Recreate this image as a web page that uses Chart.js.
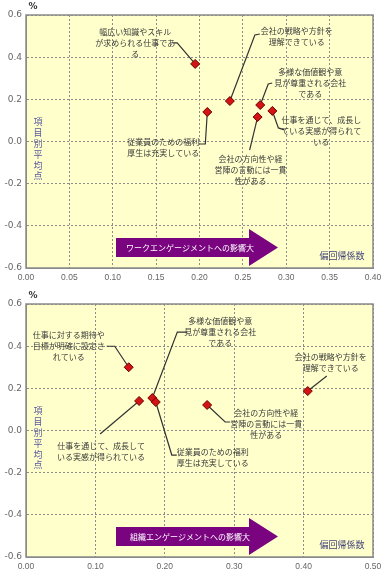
<!DOCTYPE html>
<html lang="ja">
<head>
<meta charset="UTF-8">
<title>項目別平均点と偏回帰係数</title>
<script src="https://cdn.jsdelivr.net/npm/chart.js"></script>
<style>
  html, body { margin: 0; padding: 0; background: #fff; }
  canvas { display: block; }
</style>
</head>
<body>
<canvas id="graficaWork" width="389" height="290"></canvas>
<canvas id="graficaOrg" width="389" height="288"></canvas>
<script>
// --- ワークエンゲージメント ---
const items1 = [
  '幅広い知識やスキル\nが求められる仕事であ\nる',
  '会社の戦略や方針を\n理解できている',
  '多様な価値観や意\n見が尊重される会社\nである',
  '仕事を通じて、成長し\nている実感が得られて\nいる',
  '会社の方向性や経\n営陣の言動には一貫\n性がある',
  '従業員のための福利\n厚生は充実している'
];
const coef1 = [0.195, 0.235, 0.270, 0.284, 0.267, 0.209];
const avg1  = [0.368, 0.192, 0.173, 0.145, 0.116, 0.140];
const xTicks1 = [0, 0.05, 0.10, 0.15, 0.20, 0.25, 0.30, 0.35, 0.40];

// --- 組織エンゲージメント ---
const items2 = [
  '仕事に対する期待や\n目標が明確に設定さ\nれている',
  '仕事を通じて、成長して\nいる実感が得られている',
  '多様な価値観や意\n見が尊重される会社\nである',
  '従業員のための福利\n厚生は充実している',
  '会社の方向性や経\n営陣の言動には一貫\n性がある',
  '会社の戦略や方針を\n理解できている'
];
const coef2 = [0.148, 0.163, 0.182, 0.187, 0.261, 0.406];
const avg2  = [0.300, 0.140, 0.154, 0.135, 0.121, 0.187];
const xTicks2 = [0, 0.10, 0.20, 0.30, 0.40, 0.50];

const yTicks = [-0.6, -0.4, -0.2, 0.0, 0.2, 0.4, 0.6];

// ラベル位置（点からのずれ, px）
const pos1 = [
  { dx: -60, dy: -21, leader: [[-22, -21], [-18, -21]] },
  { dx: 67, dy: -65, leader: [[30, -67], [25, -66]] },
  { dx: 50, dy: -22, leader: [[12, -22], [8, -21]] },
  { dx: 49, dy: 20, leader: [[12, 19], [6, 17]] },
  { dx: -7, dy: 53, leader: [[-8, 33]] },
  { dx: -44, dy: 35, leader: [[-8, 32], [-2, 32]] }
];
const pos2 = [
  { dx: -60, dy: -21, leader: [[-22, -21], [-14, -21]] },
  { dx: -38, dy: 50, leader: [[-39, 33]] },
  { dx: 68, dy: -66, leader: [[35, -66], [25, -66]] },
  { dx: 57, dy: 55, leader: [[21, 53], [16, 53]] },
  { dx: 59, dy: 19, leader: [[23, 17], [18, 17]] },
  { dx: 23, dy: -29, leader: [[19, -15]] }
];

const jp = '"Noto Sans CJK JP", sans-serif';

function crearGrafica(id, items, xs, ys, xTicks, pos, flecha, arriba, abajo) {
  const decor = {
    id: 'decor',
    beforeDraw(chart) {
      const { ctx, chartArea: a } = chart;
      ctx.save();
      ctx.fillStyle = '#ffffcc';
      ctx.fillRect(a.left, a.top, a.right - a.left, a.bottom - a.top);
      ctx.restore();
    },
    beforeDatasetsDraw(chart) {
      const { ctx, chartArea: a, scales } = chart;
      ctx.save();
      ctx.strokeStyle = '#8a8a8a';
      ctx.lineWidth = 1.5;
      ctx.strokeRect(a.left, a.top, a.right - a.left, a.bottom - a.top);

      // 引き出し線とラベル
      ctx.font = '8px ' + jp;
      ctx.textAlign = 'center';
      ctx.textBaseline = 'middle';
      items.forEach((txt, i) => {
        const px = scales.x.getPixelForValue(xs[i]);
        const py = scales.y.getPixelForValue(ys[i]);
        const p = pos[i];
        ctx.strokeStyle = '#333';
        ctx.lineWidth = 1.2;
        ctx.beginPath();
        p.leader.forEach((o, k) => {
          if (k === 0) ctx.moveTo(px + o[0], py + o[1]);
          else ctx.lineTo(px + o[0], py + o[1]);
        });
        ctx.lineTo(px, py);
        ctx.stroke();
        const lines = txt.split('\n');
        const lh = 11;
        const y0 = py + p.dy - (lines.length - 1) * lh / 2;
        ctx.fillStyle = '#3a3a3a';
        lines.forEach((l, k) => ctx.fillText(l, px + p.dx, y0 + k * lh));
      });

      // 矢印
      const L = a.left, B = a.bottom;
      ctx.fillStyle = '#7a0480';
      ctx.beginPath();
      ctx.moveTo(L + 90, B - 30);
      ctx.lineTo(L + 223, B - 30);
      ctx.lineTo(L + 223, B - 39);
      ctx.lineTo(L + 252, B - 20.5);
      ctx.lineTo(L + 223, B - 2);
      ctx.lineTo(L + 223, B - 11);
      ctx.lineTo(L + 90, B - 11);
      ctx.closePath();
      ctx.fill();
      ctx.fillStyle = '#fff';
      ctx.font = '8px ' + jp;
      ctx.fillText(flecha, L + 164, B - 20.5);

      ctx.fillStyle = '#44447a';
      ctx.font = '9px ' + jp;
      ctx.fillText('偏回帰係数', a.right - 31, B - 12);

      // 縦書き
      ctx.fillStyle = '#5a5aa0';
      ctx.font = '9px ' + jp;
      '項目別平均点'.split('').forEach((c, k) => ctx.fillText(c, L + 12, a.top + 107 + k * 10.8));

      ctx.fillStyle = '#333';
      ctx.font = 'bold 9px "DejaVu Sans", sans-serif';
      ctx.fillText('%', L + 7, a.top - 8);
      ctx.restore();
    }
  };

  return new Chart(document.getElementById(id), {
    type: 'scatter',
    data: {
      datasets: [{
        data: xs.map((v, i) => ({ x: v, y: ys[i] })),
        pointStyle: 'rectRot',
        pointRadius: 4.5,
        backgroundColor: '#d41414',
        borderColor: '#6a0000',
        borderWidth: 1
      }]
    },
    options: {
      responsive: false,
      animation: false,
      devicePixelRatio: 1,
      layout: { padding: { top: arriba, right: 16, left: 0, bottom: 0 } },
      plugins: { legend: { display: false }, tooltip: { enabled: false } },
      scales: {
        x: {
          type: 'linear',
          min: xTicks[0],
          max: xTicks[xTicks.length - 1],
          afterBuildTicks: s => { s.ticks = xTicks.map(v => ({ value: v })); },
          afterFit: s => { s.height = abajo; },
          ticks: {
            callback: v => v.toFixed(2),
            color: '#666',
            font: { family: '"Liberation Sans", sans-serif', size: 8.5 },
            padding: 5,
            maxRotation: 0
          },
          grid: { color: '#8c8c8c', lineWidth: 1, drawTicks: false },
          border: { dash: [2, 2], color: '#8a8a8a' }
        },
        y: {
          type: 'linear',
          min: yTicks[0],
          max: yTicks[yTicks.length - 1],
          afterBuildTicks: s => { s.ticks = yTicks.map(v => ({ value: v })); },
          afterFit: s => { s.width = 26; },
          ticks: {
            callback: v => v.toFixed(1),
            color: '#666',
            font: { family: '"DejaVu Sans", sans-serif', size: 9 },
            padding: 4
          },
          grid: { color: '#8c8c8c', lineWidth: 1, drawTicks: false },
          border: { dash: [2, 2], color: '#8a8a8a' }
        }
      }
    },
    plugins: [decor]
  });
}

crearGrafica('graficaWork', items1, coef1, avg1, xTicks1, pos1, 'ワークエンゲージメントへの影響大', 15, 22);
crearGrafica('graficaOrg', items2, coef2, avg2, xTicks2, pos2, '組織エンゲージメントへの影響大', 14, 21);
</script>
</body>
</html>
